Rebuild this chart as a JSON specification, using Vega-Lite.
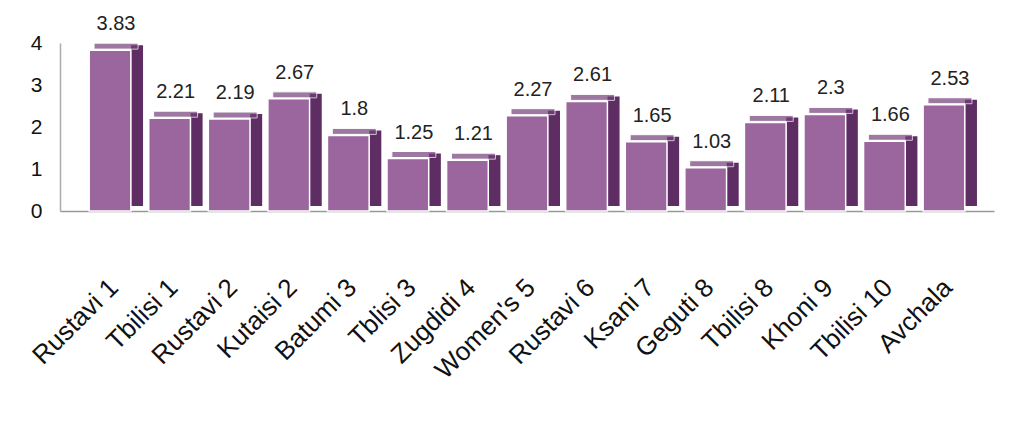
{
  "$schema": "https://vega.github.io/schema/vega-lite/v6.json",
  "width": 934,
  "height": 168,
  "autosize": {"type": "none"},
  "padding": {"left": 60, "top": 43, "right": 21, "bottom": 210},
  "background": "white",
  "config": {"view": {"stroke": null}, "font": "Liberation Sans"},
  "data": {
    "values": [
      {"site": "Rustavi 1", "value": 3.83},
      {"site": "Tbilisi 1", "value": 2.21},
      {"site": "Rustavi 2", "value": 2.19},
      {"site": "Kutaisi 2", "value": 2.67},
      {"site": "Batumi 3", "value": 1.8},
      {"site": "Tblisi 3", "value": 1.25},
      {"site": "Zugdidi 4", "value": 1.21},
      {"site": "Women's 5", "value": 2.27},
      {"site": "Rustavi 6", "value": 2.61},
      {"site": "Ksani 7", "value": 1.65},
      {"site": "Geguti 8", "value": 1.03},
      {"site": "Tbilisi 8", "value": 2.11},
      {"site": "Khoni 9", "value": 2.3},
      {"site": "Tbilisi 10", "value": 1.66},
      {"site": "Avchala", "value": 2.53}
    ]
  },
  "encoding": {
    "x": {
      "field": "site",
      "type": "nominal",
      "sort": null,
      "scale": {"paddingInner": 0.3, "paddingOuter": 0.49},
      "axis": {
        "title": null,
        "labelAngle": -45,
        "labelFontSize": 26,
        "labelColor": "#111",
        "labelPadding": 72,
        "labelOffset": 4,
        "ticks": false,
        "domainColor": "#999",
        "domainWidth": 1.5,
        "labelAlign": "right",
        "labelBaseline": "middle"
      }
    },
    "y": {
      "field": "value",
      "type": "quantitative",
      "scale": {"domain": [0, 4]},
      "axis": {
        "title": null,
        "values": [0, 1, 2, 3, 4],
        "grid": false,
        "ticks": false,
        "labelFontSize": 21,
        "labelPadding": 18,
        "labelColor": "#111",
        "domainColor": "#aaa",
        "domainWidth": 1.5
      }
    }
  },
  "layer": [
    {"mark": {"type": "bar", "width": 12, "xOffset": 27, "yOffset": -5, "color": "#5E2D63"}},
    {"mark": {"type": "tick", "size": 44, "thickness": 6, "xOffset": 6, "yOffset": -4, "color": "#74407A", "stroke": "white", "strokeWidth": 1}},
    {"mark": {"type": "bar", "color": "#9B659E", "stroke": "white", "strokeWidth": 1.5}},
    {
      "mark": {"type": "text", "dy": -26, "xOffset": 6, "fontSize": 20, "color": "#222"},
      "encoding": {"text": {"field": "value", "type": "quantitative"}}
    }
  ]
}
